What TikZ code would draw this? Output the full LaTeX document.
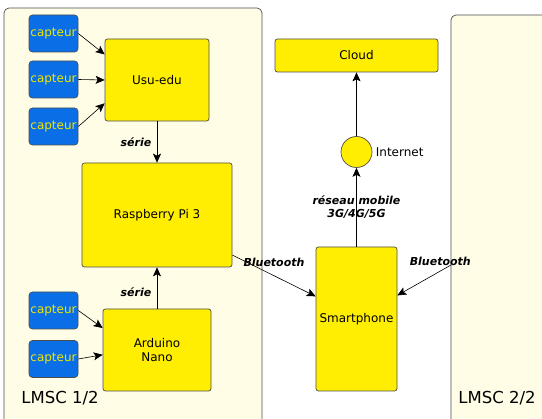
\documentclass[tikz,border=0pt]{standalone}
\usepackage{fontspec}
\setmainfont{DejaVu Sans}
\usetikzlibrary{arrows,arrows.meta}
\definecolor{boxyellow}{HTML}{FFEE00}
\definecolor{capblue}{HTML}{0A6FE6}
\definecolor{captext}{HTML}{F2E600}
\definecolor{panelfill}{HTML}{FFFDE6}
\definecolor{edgegray}{HTML}{4D4D4D}
\tikzstyle{arrow} = [semithick,->,>={Stealth[length=9pt,width=8pt,inset=2pt]}]
\tikzstyle{box}=[draw=edgegray, line width=0.7pt, fill=boxyellow, rounded corners=2.5pt, align=center, font=\fontsize{12}{14}\selectfont]
\tikzstyle{sensor}=[draw=edgegray, line width=0.7pt, fill=capblue, text=captext, rounded corners=3.5pt, minimum width=49pt, minimum height=37pt, inner sep=0pt, font=\fontsize{12}{14}\selectfont]
\tikzstyle{lbl}=[font=\fontsize{11}{13}\selectfont\bfseries\itshape, align=center]
\tikzstyle{zone}=[draw=edgegray, line width=0.7pt, fill=panelfill, rounded corners=5pt]

\begin{document}
\begin{tikzpicture}[x=1pt, y=-1pt]
    \useasboundingbox (0,0) rectangle (542,419);
    \clip (0,0) rectangle (542,419);
    % panels
    \draw [zone] (4,440) rectangle (262,8);
    \draw [zone] (451,440) rectangle (570,15);
    \node (z1) at (60,398)  {\fontsize{16.5}{19}\selectfont LMSC 1/2};
    \node (z2) at (497,398) {\fontsize{16.5}{19}\selectfont LMSC 2/2};
    \coordinate (bt2) at (451,265);

    \node (usu)   [box, minimum width=104pt, minimum height=82pt]  at (157,80)    {Usu-edu};
    \node (rpi)   [box, minimum width=150pt, minimum height=104pt] at (157,215)   {Raspberry Pi 3};
    \node (nano)  [box, minimum width=108pt, minimum height=82pt]  at (157,350)   {Arduino\\Nano};
    \node (cloud) [box, minimum width=163pt, minimum height=33pt]  at (356.5,55.5) {Cloud};
    \node (inet)  [box, circle, minimum size=31pt]                 at (356.5,152) {};
    \node (inetl) [right, font=\fontsize{12}{14}\selectfont] at (inet.east) {Internet};
    \node (phone) [box, minimum width=81pt, minimum height=144pt]  at (356.5,319) {Smartphone};

    \node (c1) [sensor] at (53.5,33.5)  {capteur};
    \node (c2) [sensor] at (53.5,79.5)  {capteur};
    \node (c3) [sensor] at (53.5,126.5) {capteur};
    \node (c4) [sensor] at (53.5,310.5) {capteur};
    \node (c5) [sensor] at (53.5,359)   {capteur};

    \draw [arrow] (c1.east) -- (usu.154);
    \draw [arrow] (c2.east) -- (usu.west);
    \draw [arrow] (c3.east) -- (usu.204);
    \draw [arrow] (c4.east) -- (nano.158);
    \draw [arrow] (c5.east) -- (nano.185);
    \draw [arrow] (usu) -- node [lbl, left=2pt] {série} (rpi);
    \draw [arrow] (nano) -- node [lbl, left=2pt, pos=0.4] {série} (rpi);
    \draw [arrow] (rpi.-28) -- node [lbl, above=5pt] {Bluetooth} (phone.151.5);
    \draw [arrow] (bt2) -- node [lbl, above=2pt, pos=0.2] {Bluetooth} (phone.30.6);
    \draw [arrow] (phone) -- node [lbl] {réseau mobile\\3G/4G/5G} (inet);
    \draw [arrow] (inet) -- (cloud);
\end{tikzpicture}
\end{document}
